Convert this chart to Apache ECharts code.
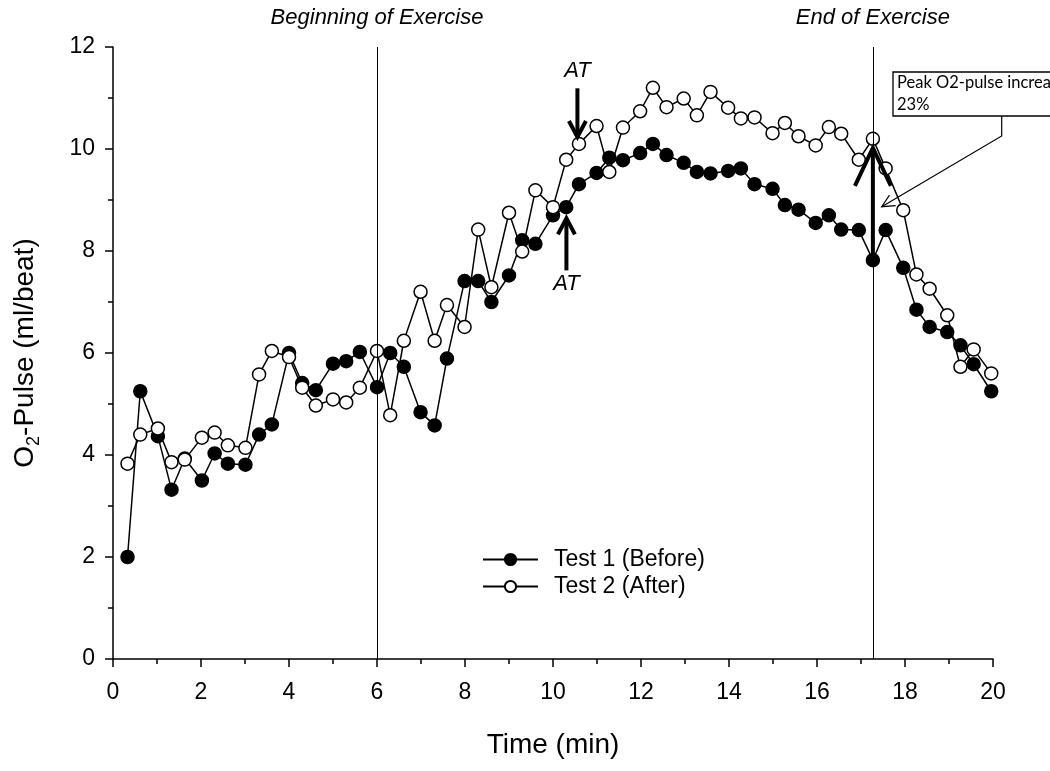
<!DOCTYPE html>
<html>
<head>
<meta charset="utf-8">
<script src="https://cdn.jsdelivr.net/npm/echarts@6/dist/echarts.min.js"></script>
<style>
html, body { margin: 0; padding: 0; background: #fff; }
#chart { width: 1050px; height: 771px; }
</style>
</head>
<body>
<div id="chart"></div>
<script>
var chart = echarts.init(document.getElementById('chart'));

// sample times (min)
var times = [0.33, 0.62, 1.02, 1.33, 1.63, 2.02, 2.31, 2.61, 3.01, 3.32,
  3.61, 4.0, 4.3, 4.61, 5.0, 5.3, 5.61, 6.0, 6.3, 6.61,
  6.99, 7.31, 7.59, 7.99, 8.3, 8.6, 9.0, 9.3, 9.6, 10.0,
  10.3, 10.59, 10.99, 11.28, 11.59, 11.98, 12.27, 12.58, 12.97, 13.27,
  13.58, 13.98, 14.27, 14.58, 14.99, 15.27, 15.58, 15.97, 16.27, 16.55,
  16.95, 17.27, 17.56, 17.96, 18.26, 18.56, 18.96, 19.26, 19.56, 19.96];

// O2-pulse, ml/beat
var test1 = [2.0, 5.25, 4.37, 3.32, 3.93, 3.5, 4.03, 3.83, 3.81, 4.4,
  4.6, 6.0, 5.41, 5.27, 5.79, 5.84, 6.02, 5.33, 6.0, 5.73,
  4.84, 4.58, 5.89, 7.41, 7.41, 7.0, 7.52, 8.21, 8.14, 8.7,
  8.86, 9.31, 9.53, 9.83, 9.78, 9.92, 10.1, 9.88, 9.73, 9.55,
  9.52, 9.57, 9.62, 9.31, 9.22, 8.9, 8.81, 8.55, 8.7, 8.42,
  8.41, 7.82, 8.41, 7.67, 6.85, 6.51, 6.41, 6.15, 5.78, 5.25];

var test2 = [3.83, 4.4, 4.52, 3.86, 3.91, 4.34, 4.44, 4.19, 4.14, 5.58,
  6.04, 5.92, 5.32, 4.97, 5.09, 5.03, 5.32, 6.04, 4.78, 6.24,
  7.2, 6.24, 6.94, 6.51, 8.42, 7.29, 8.75, 7.99, 9.19, 8.86,
  9.79, 10.1, 10.45, 9.55, 10.42, 10.74, 11.2, 10.82, 10.99, 10.66,
  11.12, 10.81, 10.6, 10.62, 10.31, 10.51, 10.25, 10.07, 10.43, 10.3,
  9.79, 10.2, 9.62, 8.8, 7.54, 7.26, 6.74, 5.73, 6.07, 5.6];

var exerciseMarks = [6, 17.27];
var exerciseLabels = ['Beginning of Exercise', 'End of Exercise'];

// arrows: x, y from, y to, big?, label y
var arrows = [
  [10.555, 11.19, 10.235, 0, 11.54],
  [10.305, 7.62, 8.64, 0, 7.35],
  [17.27, 7.82, 10.02, 1, 0]
];
var arrowLabels = ['AT', 'AT', ''];

var FONT = '"Liberation Sans", Arial, sans-serif';

function toPairs(ys) {
  return times.map(function (t, i) { return [t, ys[i]]; });
}

function renderArrow(params, api) {
  var x = api.value(0);
  var p0 = api.coord([x, api.value(1)]);
  var p1 = api.coord([x, api.value(2)]);
  var big = api.value(3);
  var dir = p1[1] < p0[1] ? -1 : 1;
  var hw = big ? 18 : 8.5;
  var hl = big ? 38 : 16;
  var kids = [
    { type: 'line', shape: { x1: p0[0], y1: p0[1], x2: p1[0], y2: p1[1] },
      style: { stroke: '#000', lineWidth: 4 } },
    { type: 'polyline',
      shape: { points: [[p1[0] - hw, p1[1] - dir * hl], [p1[0], p1[1]], [p1[0] + hw, p1[1] - dir * hl]] },
      style: { stroke: '#000', lineWidth: 4, fill: null } }
  ];
  var lab = arrowLabels[params.dataIndex];
  if (lab) {
    var pl = api.coord([x, api.value(4)]);
    kids.push({ type: 'text', x: pl[0], y: pl[1],
      style: { text: lab, fill: '#000', font: 'italic 22px ' + FONT, align: 'center', verticalAlign: 'middle' } });
  }
  return { type: 'group', children: kids };
}

// callout leader (pixels)
var tip = [881.7, 206.7], knee = [1001.7, 136];
var ux = knee[0] - tip[0], uy = knee[1] - tip[1];
var ul = Math.sqrt(ux * ux + uy * uy);
ux /= ul; uy /= ul;
var ca = Math.cos(0.45), sa = Math.sin(0.45), hlen = 14;
var headA = [tip[0] + hlen * (ux * ca - uy * sa), tip[1] + hlen * (ux * sa + uy * ca)];
var headB = [tip[0] + hlen * (ux * ca + uy * sa), tip[1] + hlen * (-ux * sa + uy * ca)];

var axisStyle = { color: '#000', width: 1.5 };

var option = {
  animation: false,
  backgroundColor: '#fff',
  grid: { left: 113, right: 57, top: 47, bottom: 112, outerBoundsMode: 'none' },
  legend: {
    orient: 'vertical',
    left: 477,
    top: 543,
    itemWidth: 55,
    itemHeight: 14,
    itemGap: 4,
    selectedMode: false,
    textStyle: { fontSize: 23, color: '#000', fontFamily: FONT, padding: [0, 0, 0, 11] },
    data: ['Test 1 (Before)', 'Test 2 (After)']
  },
  xAxis: {
    type: 'value', min: 0, max: 20, interval: 2,
    name: 'Time (min)', nameLocation: 'middle', nameGap: 72,
    nameTextStyle: { fontSize: 28, color: '#000', fontFamily: FONT },
    axisLine: { lineStyle: axisStyle },
    axisTick: { length: 8, lineStyle: axisStyle },
    minorTick: { show: true, splitNumber: 2, length: 5, lineStyle: axisStyle },
    splitLine: { show: false },
    axisLabel: { fontSize: 23, color: '#000', fontFamily: FONT, margin: 22 }
  },
  yAxis: {
    type: 'value', min: 0, max: 12, interval: 2,
    name: '{a|O}{s|2}{a|-Pulse (ml/beat)}', nameLocation: 'middle', nameGap: 70, nameRotate: 90,
    nameTextStyle: {
      color: '#000',
      rich: {
        a: { fontSize: 28, lineHeight: 36, color: '#000', fontFamily: FONT },
        s: { fontSize: 18, lineHeight: 18, verticalAlign: 'bottom', color: '#000', fontFamily: FONT }
      }
    },
    axisLine: { lineStyle: axisStyle },
    axisTick: { length: 8, lineStyle: axisStyle },
    minorTick: { show: true, splitNumber: 2, length: 5, lineStyle: axisStyle },
    splitLine: { show: false },
    axisLabel: { fontSize: 23, color: '#000', fontFamily: FONT, margin: 18 }
  },
  series: [
    {
      name: 'Test 1 (Before)',
      type: 'line',
      data: toPairs(test1),
      symbol: 'circle',
      symbolSize: 13,
      showAllSymbol: true,
      z: 2,
      silent: true,
      itemStyle: { color: '#000', borderColor: '#000', borderWidth: 1.5 },
      lineStyle: { color: '#000', width: 1.5 },
      markLine: {
        silent: true,
        symbol: ['none', 'none'],
        lineStyle: { color: '#000', width: 1, type: 'solid' },
        label: {
          show: true, position: 'end', distance: 18,
          formatter: function (p) { return exerciseLabels[p.dataIndex]; },
          fontStyle: 'italic', fontSize: 22, color: '#000', fontFamily: FONT
        },
        data: exerciseMarks.map(function (v) { return { xAxis: v }; })
      }
    },
    {
      name: 'Test 2 (After)',
      type: 'line',
      data: toPairs(test2),
      symbol: 'circle',
      symbolSize: 13,
      showAllSymbol: true,
      z: 3,
      silent: true,
      itemStyle: { color: '#fff', borderColor: '#000', borderWidth: 1.5 },
      lineStyle: { color: '#000', width: 1.5 }
    },
    {
      type: 'custom',
      z: 4,
      silent: true,
      renderItem: renderArrow,
      encode: { x: 0, y: [1, 2] },
      data: arrows
    }
  ],
  graphic: [
    { type: 'polyline', silent: true, z: 10,
      shape: { points: [[1001.7, 116], knee, tip] },
      style: { stroke: '#000', lineWidth: 1.2, fill: null } },
    { type: 'polyline', silent: true, z: 10,
      shape: { points: [headA, tip, headB] },
      style: { stroke: '#000', lineWidth: 1.2, fill: null } },
    { type: 'rect', silent: true, z: 10,
      shape: { x: 893, y: 72, width: 220, height: 44 },
      style: { fill: '#fff', stroke: '#000', lineWidth: 1.3 } },
    { type: 'text', silent: true, z: 11, x: 897, y: 72,
      style: { text: 'Peak O2-pulse increase\n23%', fill: '#000', font: '16.5px Lato, "Open Sans", sans-serif', lineHeight: 22 } }
  ]
};

chart.setOption(option);
</script>
</body>
</html>
